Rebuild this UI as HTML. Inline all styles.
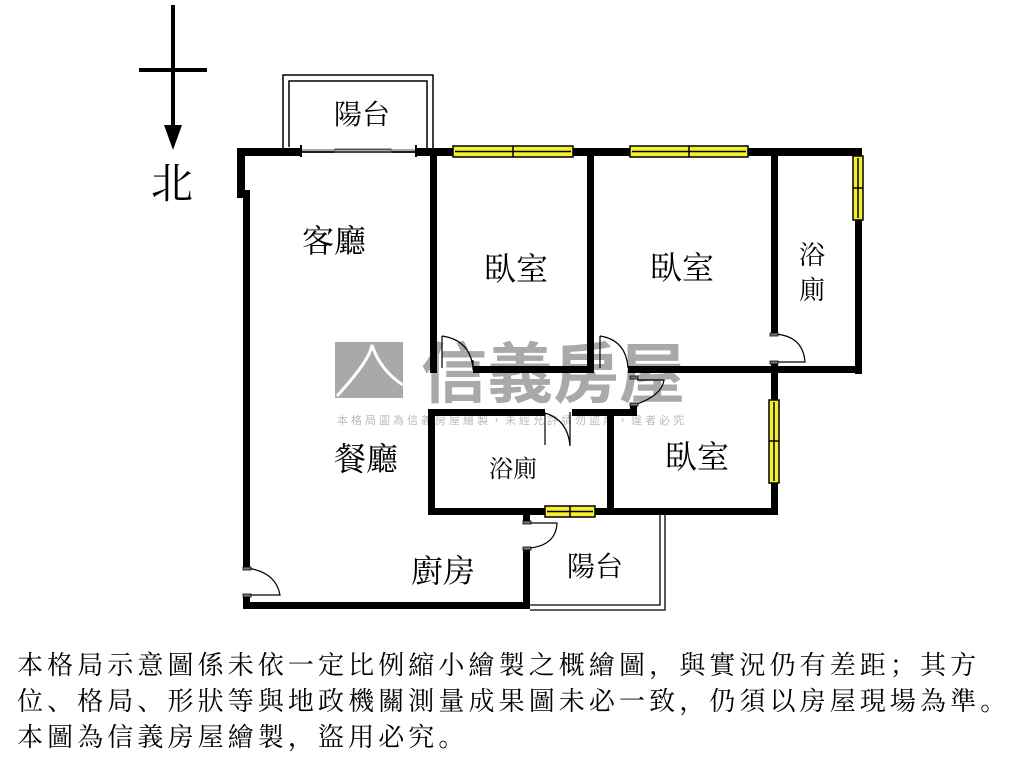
<!DOCTYPE html>
<html><head><meta charset="utf-8"><style>
html,body{margin:0;padding:0;background:#fff;width:1024px;height:768px;overflow:hidden}
svg{display:block}
.t{font-family:"Liberation Serif","Noto Serif CJK SC","Noto Sans CJK TC",serif;fill:#000}
.note{position:absolute;left:17px;top:646px;font-family:"Noto Serif CJK SC",serif;font-size:26px;line-height:36px;color:#000;letter-spacing:4.1px;white-space:nowrap}
</style></head><body>
<svg width="1024" height="768" viewBox="0 0 1024 768">
<line x1="173" y1="5" x2="173" y2="130" stroke="#000" stroke-width="4"/>
<line x1="139" y1="70" x2="207" y2="70" stroke="#000" stroke-width="4"/>
<polygon points="164,125 182,125 173,150" fill="#000"/>
<text x="172" y="198" class="t" font-size="42" text-anchor="middle">北</text>

<g fill="#a9a9a9">
<rect x="335" y="342" width="68" height="56"/>
<text x="553" y="397" font-family="'Noto Sans CJK TC',sans-serif" font-size="66" font-weight="bold" text-anchor="middle" fill="#a9a9a9">信義房屋</text>
<text x="512" y="424" font-family="'Noto Sans CJK TC',sans-serif" font-size="11" text-anchor="middle" fill="#bbb" letter-spacing="3">本格局圖為信義房屋繪製，未經允許請勿盜用，違者必究</text>
</g>
<path d="M337,396 Q370,360 372,345 Q380,370 403,385" fill="none" stroke="#fff" stroke-width="3"/>

<rect x="283" y="75" width="150" height="77" fill="none" stroke="#000" stroke-width="1.5"/>
<rect x="289" y="81" width="138" height="71" fill="none" stroke="#000" stroke-width="1.5"/>
<rect x="286" y="147" width="6" height="10" fill="#fff"/>

<g fill="#000">
<rect x="237" y="148" width="64" height="8"/>
<rect x="416" y="148" width="442" height="8"/>
<rect x="237" y="148" width="8" height="50"/>
<rect x="243" y="190" width="7" height="378"/>
<rect x="243" y="595" width="7" height="14"/>
<rect x="243" y="602" width="287" height="7"/>
<rect x="430" y="148" width="7" height="225"/>
<rect x="587" y="148" width="7" height="225"/>
<rect x="771" y="148" width="7" height="186"/>
<rect x="855" y="148" width="7" height="226"/>
<rect x="473" y="366" width="121" height="7"/>
<rect x="628" y="366" width="234" height="7"/>
<rect x="771" y="362" width="7" height="152"/>
<rect x="428" y="409" width="117" height="7"/>
<rect x="572" y="409" width="62" height="7"/>
<rect x="630" y="404" width="7" height="12"/>
<rect x="428" y="409" width="7" height="106"/>
<rect x="607" y="409" width="7" height="106"/>
<rect x="428" y="508" width="350" height="7"/>
<rect x="523" y="515" width="7" height="8"/>
<rect x="523" y="548" width="7" height="61"/>
</g>
<line x1="301" y1="150" x2="416" y2="150" stroke="#555" stroke-width="1"/>
<rect x="335" y="149" width="56" height="3" fill="none" stroke="#555" stroke-width="1"/>
<line x1="301" y1="145" x2="301" y2="157" stroke="#000" stroke-width="2"/>
<line x1="416" y1="145" x2="416" y2="157" stroke="#000" stroke-width="2"/>
<g fill="#f4f030" stroke="#000" stroke-width="1.5">
<rect x="453" y="146" width="120" height="11"/>
<rect x="630" y="146" width="118" height="11"/>
<rect x="853" y="156" width="10" height="64"/>
<rect x="769" y="400" width="10" height="83"/>
<rect x="545" y="506" width="50" height="11"/>
</g>
<g stroke="#000" stroke-width="1.5">
<line x1="455" y1="151.5" x2="571" y2="151.5"/><line x1="513" y1="146" x2="513" y2="157"/>
<line x1="632" y1="151.5" x2="746" y2="151.5"/><line x1="689" y1="146" x2="689" y2="157"/>
<line x1="858" y1="158" x2="858" y2="218"/><line x1="853" y1="188" x2="863" y2="188"/>
<line x1="774" y1="402" x2="774" y2="481"/><line x1="769" y1="441" x2="779" y2="441"/>
<line x1="547" y1="511.5" x2="593" y2="511.5"/><line x1="570" y1="506" x2="570" y2="517"/>
</g>
<path d="M530,605 H660 V515" fill="none" stroke="#000" stroke-width="1.3"/>
<path d="M530,610 H665 V515" fill="none" stroke="#000" stroke-width="1.3"/>
<g fill="none" stroke="#000" stroke-width="1.2">
<path d="M442,336 V368 M442,336 Q470,340 473,368 M473,360 V370"/>
<path d="M600,336 V368 M600,336 Q626,340 628,368"/>
<path d="M778,334 H776 M775,334 Q803,336 805,362 H775"/>
<path d="M637,404 Q662,395 664,380 H637"/>
<path d="M545,413 V445 M545,413 Q568,420 570,446 V412"/>
<path d="M530,523 H557 Q556,545 530,548"/>
<path d="M247,568 Q276,572 280,595 H247"/>
</g>
<g fill="#777" stroke="#000" stroke-width="0.8">
<rect x="770" y="333" width="8" height="3"/><rect x="770" y="361" width="8" height="3"/>
<rect x="630" y="376" width="8" height="3"/><rect x="630" y="403" width="8" height="3"/>
<rect x="523" y="521" width="8" height="3"/><rect x="523" y="547" width="8" height="3"/>
<rect x="243" y="567" width="8" height="3"/><rect x="243" y="594" width="8" height="3"/>
</g>

<text x="362" y="124" class="t" font-size="28" text-anchor="middle">陽台</text>
<text x="334" y="252" class="t" font-size="32" text-anchor="middle">客廳</text>
<text x="516" y="280" class="t" font-size="32" text-anchor="middle">臥室</text>
<text x="682" y="279" class="t" font-size="32" text-anchor="middle">臥室</text>
<text x="812" y="264" class="t" font-size="26" text-anchor="middle">浴</text>
<text x="812" y="299" class="t" font-size="26" text-anchor="middle">廁</text>
<text x="366" y="470" class="t" font-size="32" text-anchor="middle">餐廳</text>
<text x="513" y="477" class="t" font-size="24" text-anchor="middle">浴廁</text>
<text x="697" y="468" class="t" font-size="32" text-anchor="middle">臥室</text>
<text x="443" y="582" class="t" font-size="32" text-anchor="middle">廚房</text>
<text x="595" y="576" class="t" font-size="28" text-anchor="middle">陽台</text>
</svg>
<div class="note">本格局示意圖係未依一定比例縮小繪製之概繪圖，與實況仍有差距；其方<br>位、格局、形狀等與地政機關測量成果圖未必一致，仍須以房屋現場為準。<br>本圖為信義房屋繪製，盜用必究。</div>
</body></html>
